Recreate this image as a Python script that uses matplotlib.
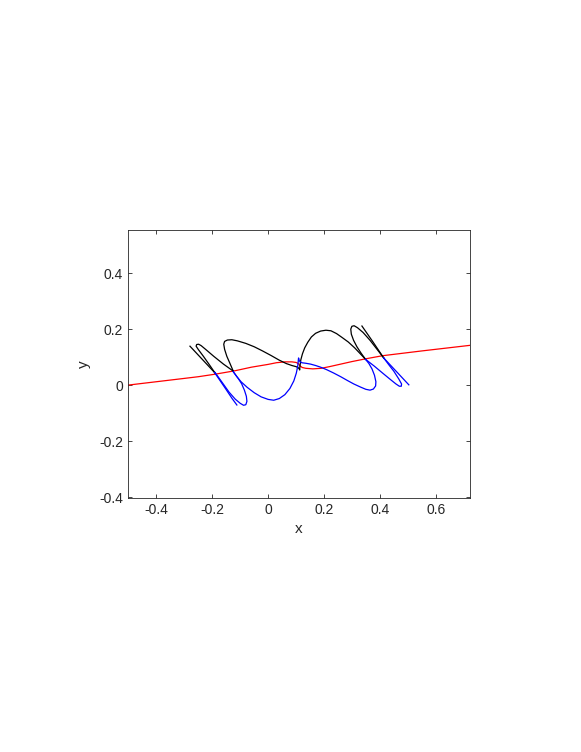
import matplotlib
matplotlib.use("Agg")
import matplotlib.pyplot as plt

plt.rcParams['font.family'] = ['Liberation Sans', 'DejaVu Sans']

# red reference line
red_x = [-0.502, -0.30, -0.25, -0.19, -0.12, -0.06, 0.0, 0.03, 0.06, 0.085, 0.100, 0.108,
         0.115, 0.122, 0.135, 0.16, 0.19, 0.22, 0.26, 0.30, 0.35, 0.41, 0.55, 0.723]
red_y = [0.0, 0.024, 0.030, 0.039, 0.051, 0.064, 0.074, 0.080, 0.083, 0.083, 0.081, 0.077,
         0.068, 0.063, 0.060, 0.058, 0.060, 0.066, 0.075, 0.084, 0.094, 0.105, 0.122, 0.142]

# black curve pieces
k1_x = [-0.280, -0.235, -0.190]
k1_y = [0.139, 0.091, 0.043]

k2_x = [-0.190, -0.210, -0.232, -0.250, -0.258, -0.256, -0.249, -0.240, -0.222, -0.195, -0.160, -0.125]
k2_y = [0.043, 0.072, 0.103, 0.127, 0.139, 0.145, 0.146, 0.141, 0.126, 0.103, 0.075, 0.050]

k3_x = [-0.125, -0.137, -0.148, -0.156, -0.159, -0.156, -0.146, -0.130, -0.110, -0.080, -0.050,
        -0.020, 0.010, 0.040, 0.065, 0.085, 0.100, 0.108, 0.112, 0.113, 0.114, 0.117, 0.123,
        0.131, 0.142, 0.155, 0.170, 0.188, 0.207, 0.225, 0.245, 0.265, 0.287, 0.310, 0.330, 0.349]
k3_y = [0.050, 0.078, 0.103, 0.128, 0.146, 0.156, 0.161, 0.162, 0.158, 0.149, 0.137,
        0.122, 0.106, 0.089, 0.077, 0.070, 0.066, 0.062, 0.057, 0.054, 0.068, 0.090, 0.112,
        0.133, 0.153, 0.172, 0.185, 0.193, 0.196, 0.194, 0.184, 0.170, 0.154, 0.133, 0.112, 0.092]

k4_x = [0.414, 0.375, 0.336]
k4_y = [0.097, 0.155, 0.211]

k5_x = [0.414, 0.390, 0.365, 0.340, 0.320, 0.308, 0.300, 0.296, 0.298, 0.306, 0.318, 0.333, 0.349]
k5_y = [0.097, 0.128, 0.160, 0.188, 0.205, 0.212, 0.210, 0.200, 0.182, 0.160, 0.137, 0.114, 0.092]

# blue curve pieces
b1_x = [0.414, 0.459, 0.504]
b1_y = [0.097, 0.049, 0.001]

b2_x = [0.349, 0.380, 0.410, 0.438, 0.458, 0.470, 0.477, 0.478, 0.468, 0.450, 0.432, 0.414]
b2_y = [0.092, 0.068, 0.043, 0.020, 0.004, -0.004, -0.004, 0.004, 0.022, 0.050, 0.073, 0.097]

b3_x = [-0.125, -0.112, -0.097, -0.075, -0.050, -0.025, 0.000, 0.020, 0.040, 0.060, 0.078,
        0.092, 0.101, 0.106, 0.108, 0.109, 0.112, 0.120, 0.135, 0.152, 0.170, 0.188, 0.210,
        0.235, 0.260, 0.283, 0.307, 0.331, 0.350, 0.365, 0.377, 0.385, 0.386, 0.381, 0.372,
        0.361, 0.349]
b3_y = [0.048, 0.030, 0.012, -0.008, -0.027, -0.042, -0.051, -0.054, -0.048, -0.034, -0.012,
        0.015, 0.043, 0.068, 0.088, 0.097, 0.086, 0.080, 0.078, 0.075, 0.070, 0.064, 0.055,
        0.043, 0.030, 0.017, 0.004, -0.007, -0.015, -0.018, -0.014, -0.003, 0.012, 0.035, 0.058,
        0.077, 0.092]

b4_x = [-0.192, -0.153, -0.129, -0.112]
b4_y = [0.045, -0.012, -0.048, -0.071]

b5_x = [-0.190, -0.165, -0.140, -0.118, -0.100, -0.088, -0.080, -0.076, -0.078, -0.085, -0.095, -0.108, -0.125]
b5_y = [0.045, 0.010, -0.025, -0.050, -0.065, -0.072, -0.070, -0.058, -0.040, -0.018, 0.005, 0.025, 0.048]

x_ticks = [-0.4, -0.2, 0, 0.2, 0.4, 0.6]
x_labels = ['-0.4', '-0.2', '0', '0.2', '0.4', '0.6']
y_ticks = [-0.4, -0.2, 0, 0.2, 0.4]
y_labels = ['-0.4', '-0.2', '0', '0.2', '0.4']

fig = plt.figure(figsize=(5.81, 7.52), dpi=100)
ax = fig.add_axes([0.2203, 0.3378, 0.5886, 0.3564])

lw = 0.9
ax.plot(red_x, red_y, color=(1, 0, 0), lw=lw)
for xs, ys in [(k1_x, k1_y), (k2_x, k2_y), (k3_x, k3_y), (k4_x, k4_y), (k5_x, k5_y)]:
    ax.plot(xs, ys, color='k', lw=lw)
for xs, ys in [(b1_x, b1_y), (b2_x, b2_y), (b3_x, b3_y), (b4_x, b4_y), (b5_x, b5_y)]:
    ax.plot(xs, ys, color=(0, 0, 1), lw=lw)

ax.set_xlim(-0.502, 0.723)
ax.set_ylim(-0.403, 0.554)
ax.set_xticks(x_ticks)
ax.set_xticklabels(x_labels)
ax.set_yticks(y_ticks)
ax.set_yticklabels(y_labels)
ax.tick_params(direction='in', length=3, width=0.6, color='#262626',
               labelsize=10, labelcolor='#262626', top=True, right=True)
for s in ax.spines.values():
    s.set_color('#262626')
    s.set_linewidth(0.6)
ax.set_xlabel('x', fontsize=11, color='#262626', labelpad=4)
ax.set_ylabel('y', fontsize=11, color='#262626', labelpad=6)

fig.savefig('out.png', dpi=100)
